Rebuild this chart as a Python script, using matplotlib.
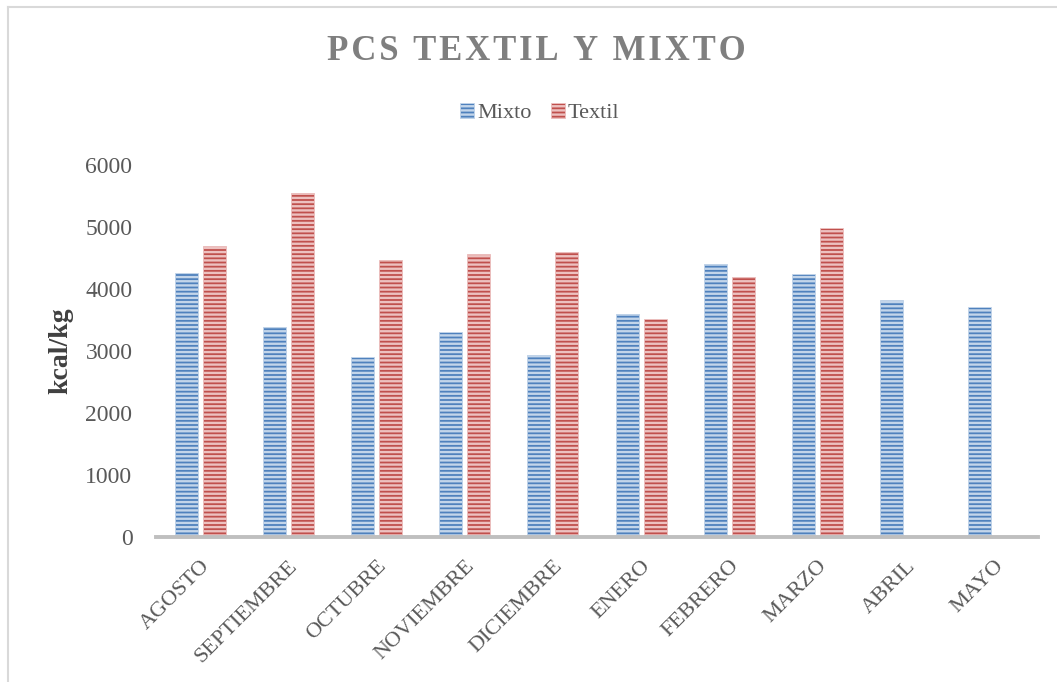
import matplotlib
matplotlib.use("Agg")
import matplotlib.pyplot as plt
import numpy as np
from matplotlib.lines import Line2D

# Datos (kcal/kg)
meses = ["AGOSTO", "SEPTIEMBRE", "OCTUBRE", "NOVIEMBRE", "DICIEMBRE",
         "ENERO", "FEBRERO", "MARZO", "ABRIL", "MAYO"]
mixto = [4260, 3390, 2900, 3300, 2930, 3590, 4400, 4240, 3820, 3710]
textil = [4700, 5550, 4460, 4570, 4590, 3510, 4190, 4990, np.nan, np.nan]
yticks = [0, 1000, 2000, 3000, 4000, 5000, 6000]
titulo = "PCS TEXTIL Y MIXTO"

plt.rcParams['font.family'] = ['Liberation Serif', 'DejaVu Serif']
plt.rcParams['hatch.linewidth'] = 1.7

W, H = 1057, 682
fig = plt.figure(figsize=(W / 100, H / 100), dpi=100)
ax = fig.add_axes([156 / W, 1 - 537 / H, (1038 - 156) / W, (537 - 165) / H])

x = np.arange(len(meses))
ancho = 0.26
off = 0.159
b1 = ax.bar(x - off, mixto, ancho, color="#4F81BD", edgecolor="#C3D5EA",
            linewidth=0.6, hatch="----", label="Mixto", zorder=2)
b2 = ax.bar(x + off, textil, ancho, color="#C0504D", edgecolor="#EDC1C0",
            linewidth=0.6, hatch="----", label="Textil", zorder=2)

ax.set_xlim(-0.5, len(meses) - 0.5)
ax.set_ylim(0, 6000)
ax.set_yticks(yticks)
ax.set_yticklabels([str(v) for v in yticks])
ax.set_xticks(x)
ax.set_xticklabels(meses, rotation=45, ha="right", va="top",
                   rotation_mode="anchor")

for s in ["top", "right", "left"]:
    ax.spines[s].set_visible(False)
ax.spines["bottom"].set_color("#BFBFBF")
ax.spines["bottom"].set_linewidth(2.8)
ax.spines["bottom"].set_zorder(3)

ax.tick_params(axis="y", length=0, pad=17, labelsize=17, labelcolor="#595959")
ax.tick_params(axis="x", length=0, pad=14, labelsize=16, labelcolor="#595959")

ax.set_ylabel("kcal/kg", fontsize=20, fontweight="bold", color="#404040")
ax.yaxis.set_label_coords(-(156 - 61) / (1038 - 156), 0.5)
ax.yaxis.label.set_va("center")

# titulo con espaciado entre letras
fig.text(536 / W, 1 - 52 / H, "\u200a".join(titulo), ha="center", va="center",
         fontsize=25, fontweight="bold", color="#7F7F7F")

leg = fig.legend(handles=[b1, b2], labels=["Mixto", "Textil"], loc="center",
                 bbox_to_anchor=(540 / W, 1 - 113 / H), ncol=2, frameon=False,
                 fontsize=16, handlelength=0.6, handleheight=0.7,
                 handletextpad=0.15, columnspacing=0.9)
for t in leg.get_texts():
    t.set_color("#595959")

# marco del grafico
fig.add_artist(Line2D([8 / W, 8 / W], [0, 1 - 6.5 / H], color="#D9D9D9",
                      linewidth=1.5, transform=fig.transFigure))
fig.add_artist(Line2D([8 / W, 1], [1 - 6.5 / H, 1 - 6.5 / H], color="#D9D9D9",
                      linewidth=1.5, transform=fig.transFigure))

plt.savefig("out.png", dpi=100)
plt.close()
